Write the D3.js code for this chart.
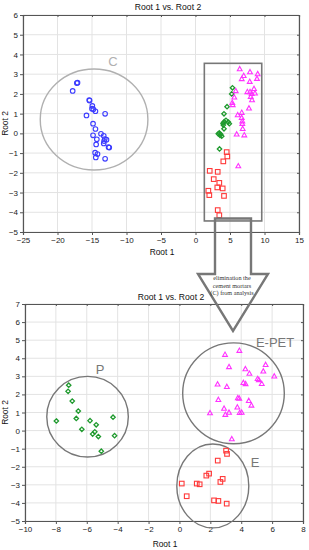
<!DOCTYPE html>
<html>
<head>
<meta charset="utf-8">
<script src="https://cdn.jsdelivr.net/npm/d3@7"></script>
<style>
  html, body { margin: 0; padding: 0; background: #fff; }
  svg { display: block; font-family: Arial, "Liberation Sans", sans-serif; }
</style>
</head>
<body>
<svg id="chart" width="309" height="550"></svg>
<script>
// ---- data ----
const topXTicks = [-25, -20, -15, -10, -5, 0, 5, 10, 15];
const topYTicks = [-5, -4, -3, -2, -1, 0, 1, 2, 3, 4, 5, 6];
const bottomXTicks = [-10, -8, -6, -4, -2, 0, 2, 4, 6, 8];
const bottomYTicks = [-5, -4, -3, -2, -1, 0, 1, 2, 3, 4, 5, 6, 7];

// top plot: all four groups
const topC = [
  [-17.1, 2.57], [-17.2, 2.55], [-17.8, 2.15], [-15.4, 1.69], [-15.35, 1.66],
  [-14.95, 1.39], [-15.0, 1.25], [-14.8, 1.22], [-14.5, 1.12], [-15.8, 0.91],
  [-13.1, 0.99], [-14.85, 0.49], [-14.5, 0.22], [-14.85, -0.1], [-14.3, -0.3],
  [-13.7, -0.02], [-13.3, -0.12], [-13.15, -0.29], [-12.9, -0.32], [-13.25, -0.39],
  [-13.3, -0.51], [-14.4, -0.56], [-12.6, -0.7], [-12.5, -0.72], [-14.55, -0.98],
  [-14.2, -1.05], [-14.45, -1.22], [-13.1, -1.29]
];
const topP = [
  [5.36, 2.31], [5.25, 2.0], [4.57, 1.35], [4.13, 0.99], [4.42, 0.66],
  [4.17, 0.59], [4.75, 0.57], [3.99, 0.51], [4.9, 0.49], [4.03, 0.42],
  [4.13, 0.23], [3.45, 0.02], [3.3, -0.02], [3.65, -0.05], [3.8, -0.14],
  [3.55, -0.1], [3.48, -0.79]
];
const topEPET = [
  [6.41, 3.26], [7.9, 3.11], [6.99, 2.92], [9.01, 3.01], [6.7, 2.76],
  [8.91, 2.77], [7.86, 2.62], [5.83, 2.15], [8.48, 2.26], [7.51, 2.1],
  [7.9, 2.1], [8.14, 2.01], [8.62, 2.03], [8.0, 1.86], [8.19, 1.69],
  [5.62, 1.83], [5.33, 1.55], [5.39, 1.44], [7.75, 1.27], [6.7, 1.05],
  [6.12, 0.93], [6.7, 0.79], [6.78, 0.62], [6.78, 0.49], [6.84, 0.23],
  [5.97, -0.05], [7.07, -0.09], [6.2, -1.66]
];
const topE = [
  [4.52, -0.95], [4.61, -1.17], [4.03, -1.42], [2.06, -1.9], [3.22, -1.95],
  [2.64, -2.32], [3.45, -2.51], [3.94, -2.79], [3.16, -2.74], [1.86, -2.91],
  [2.0, -3.13], [4.13, -3.17], [3.22, -3.89], [3.45, -4.15]
];

// bottom plot: cement mortars removed
const bottomP = [
  [-7.17, 2.51], [-7.21, 2.17], [-6.94, 1.63], [-6.55, 1.08], [-7.97, 0.53],
  [-6.68, 0.67], [-5.79, 0.55], [-4.3, 0.74], [-5.39, 0.32], [-6.32, 0.07],
  [-5.48, -0.07], [-5.62, -0.19], [-5.25, -0.33], [-4.2, -0.28], [-5.06, -1.14]
];
const bottomEPET = [
  [3.88, 4.42], [2.95, 4.2], [3.21, 3.52], [5.58, 3.64], [4.27, 3.4],
  [5.43, 3.28], [4.53, 3.15], [6.14, 3.0], [5.06, 2.86], [5.14, 2.8],
  [4.14, 2.64], [4.28, 2.58], [5.33, 2.59], [2.47, 2.56], [3.07, 2.42],
  [3.78, 1.8], [3.87, 1.78], [2.52, 1.7], [4.49, 1.65], [4.66, 1.39],
  [2.89, 1.22], [3.75, 1.29], [3.21, 1.0], [1.98, 0.97], [3.9, 0.98],
  [4.03, 1.0], [2.97, 0.88], [3.39, -0.47]
];
const bottomE = [
  [3.02, -1.11], [3.08, -1.29], [2.48, -1.66], [1.92, -2.38], [1.74, -2.49],
  [2.8, -2.67], [2.65, -2.84], [0.15, -2.93], [1.12, -2.93], [1.31, -2.97],
  [0.47, -3.63], [2.24, -3.86], [2.52, -3.89], [3.06, -4.04]
];

// group outlines (data units): cx, cy, rx, ry, label and label anchor
const topEllipses = [
  { label: "C", cx: -14.7, cy: 0.7, rx: 7.8, ry: 2.56, lx: -11.95, ly: 3.4, color: "#b0b0b0" }
];
const topBox = { x0: 1.28, x1: 9.6, y0: -4.44, y1: 3.55 };
const bottomEllipses = [
  { label: "P", cx: -5.95, cy: 0.77, rx: 2.64, ry: 2.23, lx: -5.14, ly: 3.15, color: "#777" },
  { label: "E-PET", cx: 3.5, cy: 2.06, rx: 3.29, ry: 2.79, lx: 6.19, ly: 4.6, color: "#777" },
  { label: "E", cx: 2.16, cy: -3.06, rx: 2.33, ry: 2.32, lx: 4.9, ly: -1.99, color: "#777" }
];
const arrowText = ["elimination the", "cement mortars", "(C) from analysis"];

const colors = { C: "#3c3cff", P: "#1f9a2e", EPET: "#ff33ff", E: "#ff3a3a" };

const svg = d3.select('#chart');
svg.append('rect').attr('width', 309).attr('height', 550).attr('fill', '#fff');

function drawMarker(g, shape, px, py, color) {
  if (shape === 'circle') {
    g.append('circle').attr('cx', px).attr('cy', py).attr('r', 2.3)
      .attr('fill', 'none').attr('stroke', color).attr('stroke-width', 1.1);
  } else if (shape === 'diamond') {
    g.append('path').attr('d', `M${px},${py - 2.2}L${px + 2.2},${py}L${px},${py + 2.2}L${px - 2.2},${py}Z`)
      .attr('fill', 'none').attr('stroke', color).attr('stroke-width', 1.3);
  } else if (shape === 'triangle') {
    g.append('path').attr('d', `M${px},${py - 2.6}L${px + 2.4},${py + 1.7}L${px - 2.4},${py + 1.7}Z`)
      .attr('fill', 'none').attr('stroke', color).attr('stroke-width', 1.1);
  } else {
    g.append('rect').attr('x', px - 2.3).attr('y', py - 2.3).attr('width', 4.6).attr('height', 4.6)
      .attr('fill', 'none').attr('stroke', color).attr('stroke-width', 1.1);
  }
}

function drawPanel(opt) {
  const g = svg.append('g');
  const x = d3.scaleLinear().domain(opt.xDomain).range([opt.left, opt.right]);
  const y = d3.scaleLinear().domain(opt.yDomain).range([opt.bottom, opt.top]);

  // grid
  g.append('g').selectAll('line.vx').data(opt.xTicks).enter().append('line')
    .attr('x1', d => x(d)).attr('x2', d => x(d)).attr('y1', opt.top).attr('y2', opt.bottom)
    .attr('stroke', '#e3e3e3').attr('stroke-width', 1);
  g.append('g').selectAll('line.hy').data(opt.yTicks).enter().append('line')
    .attr('x1', opt.left).attr('x2', opt.right).attr('y1', d => y(d)).attr('y2', d => y(d))
    .attr('stroke', '#e3e3e3').attr('stroke-width', 1);

  // axes
  const xAxis = g.append('g').attr('transform', `translate(0,${opt.bottom})`)
    .call(d3.axisBottom(x).tickValues(opt.xTicks).tickSize(3).tickPadding(2));
  const yAxis = g.append('g').attr('transform', `translate(${opt.left},0)`)
    .call(d3.axisLeft(y).tickValues(opt.yTicks).tickSize(3).tickPadding(2));
  [xAxis, yAxis].forEach(a => {
    a.selectAll('text').attr('font-size', 8).attr('fill', '#222');
    a.selectAll('line').attr('stroke', '#555');
    a.select('.domain').attr('stroke', '#555').attr('stroke-width', 1.2);
  });
  // top/right frame with inner ticks
  const top = g.append('g').attr('transform', `translate(0,${opt.top})`)
    .call(d3.axisTop(x).tickValues(opt.xTicks).tickSize(-2).tickFormat(''));
  const right = g.append('g').attr('transform', `translate(${opt.right},0)`)
    .call(d3.axisRight(y).tickValues(opt.yTicks).tickSize(-2).tickFormat(''));
  [top, right].forEach(a => {
    a.selectAll('line').attr('stroke', '#555');
    a.select('.domain').attr('stroke', '#555').attr('stroke-width', 1.2);
  });

  // titles
  g.append('text').attr('x', opt.titleX).attr('y', opt.titleY).attr('text-anchor', 'middle')
    .attr('font-size', 8.6).attr('fill', '#111').text('Root 1 vs. Root 2');
  g.append('text').attr('x', (opt.left + opt.right) / 2 + 1).attr('y', opt.xLabelY).attr('text-anchor', 'middle')
    .attr('font-size', 8.4).attr('fill', '#111').text('Root 1');
  g.append('text').attr('transform', `translate(8,${(opt.top + opt.bottom) / 2}) rotate(-90)`)
    .attr('text-anchor', 'middle').attr('font-size', 8.4).attr('fill', '#111').text('Root 2');

  // outlines
  opt.ellipses.forEach(e => {
    g.append('ellipse').attr('cx', x(e.cx)).attr('cy', y(e.cy))
      .attr('rx', x(e.cx + e.rx) - x(e.cx)).attr('ry', y(e.cy) - y(e.cy + e.ry))
      .attr('fill', 'none').attr('stroke', e.color).attr('stroke-width', 1.4);
    g.append('text').attr('x', x(e.lx)).attr('y', y(e.ly)).attr('text-anchor', 'middle')
      .attr('font-size', 13).attr('fill', e.color).text(e.label);
  });

  // points
  const pts = g.append('g');
  opt.series.forEach(s => {
    s.data.forEach(d => drawMarker(pts, s.shape, x(d[0]), y(d[1]), s.color));
  });
  return { x, y, g };
}

const topPanel = drawPanel({
  left: 23, right: 299, top: 15, bottom: 232,
  xDomain: [-25, 15], yDomain: [-5, 6], xTicks: topXTicks, yTicks: topYTicks,
  titleX: 168, titleY: 10, xLabelY: 255,
  ellipses: topEllipses,
  series: [
    { data: topC, shape: 'circle', color: colors.C },
    { data: topP, shape: 'diamond', color: colors.P },
    { data: topEPET, shape: 'triangle', color: colors.EPET },
    { data: topE, shape: 'square', color: colors.E }
  ]
});

const bottomPanel = drawPanel({
  left: 25, right: 303, top: 304, bottom: 521,
  xDomain: [-10, 8], yDomain: [-5, 7], xTicks: bottomXTicks, yTicks: bottomYTicks,
  titleX: 171, titleY: 300, xLabelY: 547,
  ellipses: bottomEllipses,
  series: [
    { data: bottomP, shape: 'diamond', color: colors.P },
    { data: bottomEPET, shape: 'triangle', color: colors.EPET },
    { data: bottomE, shape: 'square', color: colors.E }
  ]
});

// box around the remaining groups in the top plot
const tx = topPanel.x, ty = topPanel.y;
svg.append('rect')
  .attr('x', tx(topBox.x0)).attr('y', ty(topBox.y1))
  .attr('width', tx(topBox.x1) - tx(topBox.x0)).attr('height', ty(topBox.y0) - ty(topBox.y1))
  .attr('fill', 'none').attr('stroke', '#777').attr('stroke-width', 1.6);

// block arrow from the box down to the second plot
const sx0 = 215, sx1 = 251, sTop = ty(topBox.y0) - 2.5, headY = 274, wx0 = 198, wx1 = 268, tipX = 233, tipY = 331;
svg.append('path')
  .attr('d', `M${sx0},${sTop}L${sx1},${sTop}L${sx1},${headY}L${wx1},${headY}L${tipX},${tipY}L${wx0},${headY}L${sx0},${headY}Z`)
  .attr('fill', 'none').attr('stroke', '#777').attr('stroke-width', 2.4).attr('stroke-linejoin', 'miter');
svg.append('g').selectAll('text').data(arrowText).enter().append('text')
  .attr('x', tipX - 1).attr('y', (d, i) => headY + 6 + i * 7.6)
  .attr('text-anchor', 'middle').attr('font-family', '"Liberation Serif", "DejaVu Serif", serif')
  .attr('font-size', 6.2).attr('fill', '#333').text(d => d);
</script>
</body>
</html>
